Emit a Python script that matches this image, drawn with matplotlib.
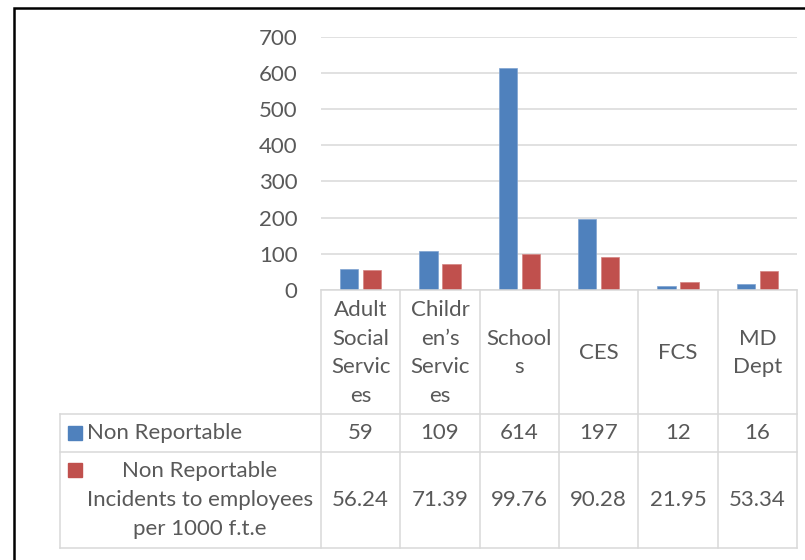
import numpy as np
import matplotlib
matplotlib.use("Agg")
import matplotlib.pyplot as plt
from matplotlib.patches import Rectangle

# ---- data ----
category_labels = ["Adult\nSocial\nServic\nes", "Childr\nen\u2019s\nServic\nes", "School\ns",
                   "CES", "FCS", "MD\nDept"]
non_reportable = [59, 109, 614, 197, 12, 16]
per_1000_fte = [56.24, 71.39, 99.76, 90.28, 21.95, 53.34]
series_names = ["Non Reportable",
                "Non Reportable\nIncidents to employees\nper 1000 f.t.e"]
y_ticks = [0, 100, 200, 300, 400, 500, 600, 700]

BLUE = "#4F81BD"
RED = "#C0504D"
TEXT = "#595959"
GRID = "#D9D9D9"
FONT = "Lato"
FS = 16
LS = 1.54

plt.rcParams["font.family"] = [FONT, "DejaVu Sans"]

W, H = 805, 560
fig = plt.figure(figsize=(W / 100, H / 100), dpi=100)

# plot area (pixel layout)
left, right, top, base = 321, 797, 36.7, 290
ax = fig.add_axes([left / W, 1 - base / H, (right - left) / W, (base - top) / H])
n = len(category_labels)
x = np.arange(n)
bw, off = 0.227, 0.145
ax.bar(x - off, non_reportable, bw, color=BLUE, edgecolor="#7FA3D1", linewidth=0.5, zorder=3)
ax.bar(x + off, per_1000_fte, bw, color=RED, edgecolor="#D48482", linewidth=0.5, zorder=3)
ax.set_xlim(-0.5, n - 0.5)
ax.set_ylim(0, 700)
ax.set_yticks(y_ticks)
ax.set_yticklabels([str(v) for v in y_ticks], fontsize=FS, color=TEXT)
ax.tick_params(axis="y", length=0, pad=17)
ax.set_xticks([])
ax.grid(axis="y", color=GRID, linewidth=1.1, zorder=0)
ax.set_axisbelow(True)
for s in ax.spines.values():
    s.set_visible(False)

# overlay in pixel coordinates for the data table and frame
ov = fig.add_axes([0, 0, 1, 1], zorder=5)
ov.set_xlim(0, W)
ov.set_ylim(H, 0)
ov.axis("off")
ov.patch.set_alpha(0)

col_w = (right - left) / n
edges = [left + i * col_w for i in range(n + 1)]
row_y = [base, 414, 452, 548]
tbl_left = 60
lw = 1.1

ov.plot([left, right], [base, base], color=GRID, lw=lw)
for yy in row_y[1:]:
    ov.plot([tbl_left, right], [yy, yy], color=GRID, lw=lw)
for xx in edges:
    ov.plot([xx, xx], [base, row_y[-1]], color=GRID, lw=lw)
ov.plot([tbl_left, tbl_left], [row_y[1], row_y[-1]], color=GRID, lw=lw)

centers = [(edges[i] + edges[i + 1]) / 2 for i in range(n)]
for cx, lab in zip(centers, category_labels):
    ov.text(cx, (row_y[0] + row_y[1]) / 2 + 1, lab, ha="center", va="center",
            fontsize=FS, color=TEXT, linespacing=LS, multialignment="center")

r1 = (row_y[1] + row_y[2]) / 2
r2 = (row_y[2] + row_y[3]) / 2
for cx, v in zip(centers, non_reportable):
    ov.text(cx, r1, f"{v}", ha="center", va="center", fontsize=FS, color=TEXT)
for cx, v in zip(centers, per_1000_fte):
    ov.text(cx, r2, f"{v:.2f}", ha="center", va="center", fontsize=FS, color=TEXT)

# series keys
ov.add_patch(Rectangle((68, r1 - 7), 14, 14, color=BLUE))
ov.add_patch(Rectangle((68, 463), 14, 14, color=RED))
ov.text(87, r1, series_names[0], ha="left", va="center", fontsize=FS, color=TEXT)
ov.text(200, r2, series_names[1], ha="center", va="center", fontsize=FS, color=TEXT,
        linespacing=LS, multialignment="center")

# outer chart frame
ov.plot([13.8, 13.8, W + 5], [H + 5, 7.8, 7.8], color="black", lw=1.8,
        solid_joinstyle="miter", clip_on=False)

fig.savefig("out.png", dpi=100)
